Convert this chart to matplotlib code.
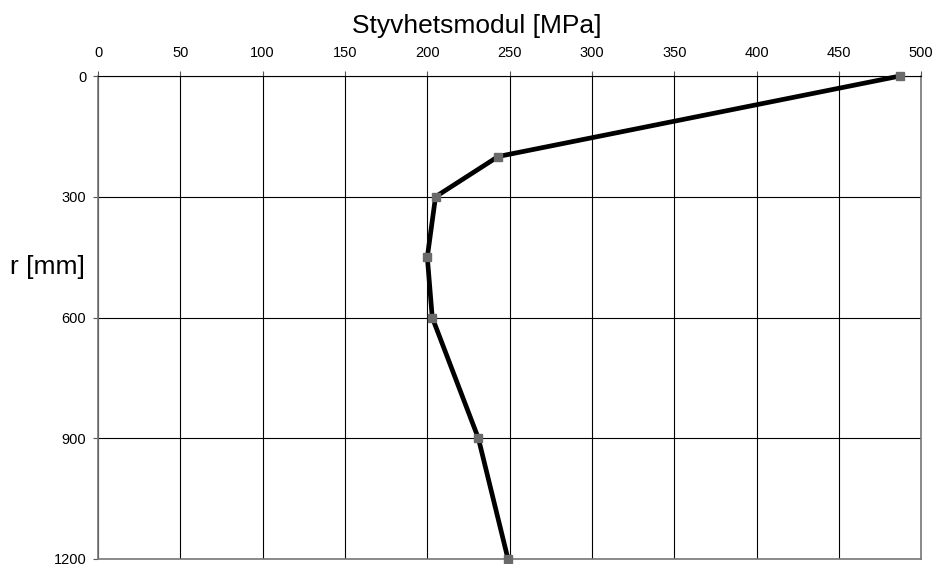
import matplotlib

matplotlib.use("Agg")
import matplotlib.pyplot as plt

plt.rcParams['font.family'] = ['Liberation Sans', 'DejaVu Sans']

# Stiffness modulus vs radius
r_mm = [0, 200, 300, 450, 600, 900, 1200]
modul_mpa = [487, 243, 205, 200, 203, 231, 249]
x_ticks = [0, 50, 100, 150, 200, 250, 300, 350, 400, 450, 500]
y_ticks = [0, 300, 600, 900, 1200]

fig = plt.figure(figsize=(9.37, 5.64), dpi=100)
ax = fig.add_axes([0.1046, 0.0089, 0.8786, 0.8563])

ax.plot(modul_mpa, r_mm, color='black', linewidth=3.4, zorder=3, clip_on=False)
ax.plot(modul_mpa, r_mm, linestyle='none', marker='s', markersize=5.8,
        color='#6a6a6a', zorder=4, clip_on=False)

ax.set_xlim(0, 500)
ax.set_ylim(1200, 0)
ax.set_xticks(x_ticks)
ax.set_yticks(y_ticks)
ax.xaxis.tick_top()
ax.xaxis.set_label_position('top')
ax.tick_params(axis='both', labelsize=10.5, length=3.5, width=0.8, color='#555555')
ax.tick_params(axis='x', pad=8)
ax.tick_params(axis='y', pad=5)
ax.grid(True, color='black', linewidth=0.8)
ax.set_axisbelow(True)
for side in ['left', 'right', 'bottom']:
    ax.spines[side].set_color('#777777')
    ax.spines[side].set_linewidth(1.2)
ax.spines['top'].set_color('black')
ax.spines['top'].set_linewidth(0.8)

ax.set_xlabel("Styvhetsmodul [MPa]", fontsize=19, va='baseline')
ax.xaxis.set_label_coords(0.46, 1.089)
ax.set_ylabel("r [mm]", fontsize=19, rotation=0, ha='right', va='center')
ax.yaxis.set_label_coords(-0.016, 0.605)

fig.savefig("out.png", dpi=100)
